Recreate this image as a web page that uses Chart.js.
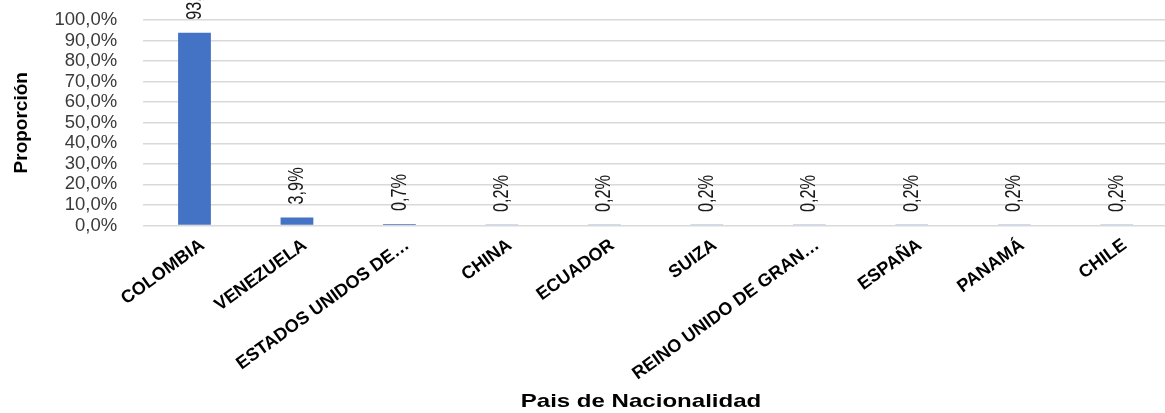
<!DOCTYPE html>
<html><head><meta charset="utf-8">
<script src="https://cdn.jsdelivr.net/npm/chart.js@4"></script>
<style>html,body{margin:0;padding:0;overflow:hidden;background:#fff;width:1165px;height:413px}canvas{display:block}</style>
</head><body>
<canvas id="c" width="1168" height="413" style="width:1168px;height:413px"></canvas>
<script>
const categories = ["COLOMBIA", "VENEZUELA", "ESTADOS UNIDOS DE…", "CHINA", "ECUADOR", "SUIZA", "REINO UNIDO DE GRAN…", "ESPAÑA", "PANAMÁ", "CHILE"];
const proportions = [93.8, 3.9, 0.7, 0.2, 0.2, 0.2, 0.2, 0.2, 0.2, 0.2];
const yTickMin = 0;
const yTickMax = 100;
const yTickStep = 10;
const xTitle = "Pais de Nacionalidad";
const yTitle = "Proporción";

const fmt = v => v.toFixed(1).replace('.', ',') + '%';

const dataLabels = {
  id: 'dataLabels',
  afterDatasetsDraw(chart) {
    const ctx = chart.ctx;
    const meta = chart.getDatasetMeta(0);
    ctx.save();
    ctx.fillStyle = '#1a1a1a';
    ctx.font = '22px "Liberation Sans", Arial, sans-serif';
    meta.data.forEach((el, i) => {
      ctx.save();
      ctx.translate(el.x, el.y - 13);
      ctx.rotate(-Math.PI / 2);
      ctx.scale(0.74, 1);
      ctx.textAlign = 'left';
      ctx.textBaseline = 'middle';
      ctx.fillText(fmt(proportions[i]), 0, 0);
      ctx.restore();
    });
    ctx.restore();
  }
};

const xAxisTitle = {
  id: 'xAxisTitle',
  afterDraw(chart) {
    const ctx = chart.ctx;
    ctx.save();
    ctx.fillStyle = '#000';
    ctx.font = 'bold 18.5px "Liberation Sans", Arial, sans-serif';
    ctx.translate(641, 402);
    ctx.scale(1.3, 1);
    ctx.textAlign = 'center';
    ctx.textBaseline = 'middle';
    ctx.fillText(xTitle, 0, 0);
    ctx.restore();
  }
};

new Chart(document.getElementById('c'), {
  type: 'bar',
  data: {
    labels: categories,
    datasets: [{
      data: proportions,
      backgroundColor: '#4472C4',
      borderWidth: 0,
      categoryPercentage: 0.4,
      barPercentage: 0.8
    }]
  },
  options: {
    responsive: false,
    animation: false,
    devicePixelRatio: 1,
    layout: { padding: { top: 20, right: 0, bottom: 0, left: 0 } },
    plugins: { legend: { display: false }, tooltip: { enabled: false } },
    scales: {
      x: {
        grid: { display: false },
        border: { display: false },
        ticks: {
          autoSkip: false,
          minRotation: 36,
          maxRotation: 36,
          padding: 1,
          labelOffset: 8,
          color: '#000',
          font: { family: '"Liberation Sans", Arial, sans-serif', size: 18, weight: 'bold' }
        },
        title: { display: false, text: xTitle },
        afterFit(scale) {
          scale.height = 413 - 225.5;
          scale.paddingLeft = 0;
          scale.paddingRight = 0;
        }
      },
      y: {
        min: yTickMin,
        max: yTickMax,
        border: { display: false },
        grid: { color: '#d9d9d9', lineWidth: 1.6, drawTicks: false },
        ticks: {
          stepSize: yTickStep,
          autoSkip: false,
          padding: 26,
          color: '#3a3a3a',
          font: { family: '"Liberation Sans", Arial, sans-serif', size: 18.5 },
          callback: v => fmt(v)
        },
        title: {
          display: true,
          text: yTitle,
          color: '#000',
          padding: { top: 10, bottom: 0 },
          font: { family: '"Liberation Sans", Arial, sans-serif', size: 19, weight: 'bold' }
        },
        afterFit(scale) {
          scale.width = 143.25;
          scale.paddingTop = 0;
          scale.paddingBottom = 0;
        }
      }
    }
  },
  plugins: [dataLabels, xAxisTitle]
});
</script>
</body></html>
